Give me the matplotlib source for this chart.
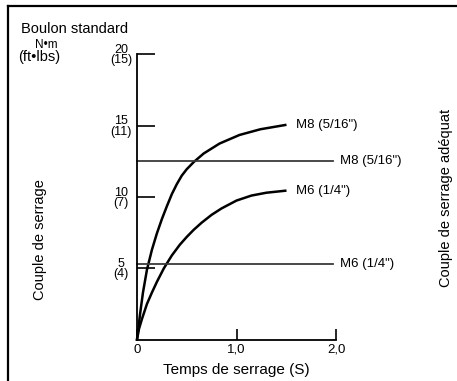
import matplotlib
matplotlib.use("Agg")
import matplotlib.pyplot as plt
from matplotlib.lines import Line2D

plt.rcParams['font.family'] = ['Liberation Sans', 'DejaVu Sans']

# values
m8_time = [0, 0.03, 0.06, 0.10, 0.15, 0.20, 0.25, 0.30, 0.35, 0.40, 0.45, 0.50, 0.57,
           0.67, 0.83, 1.03, 1.24, 1.49]
m8_torque = [0, 1.75, 3.3, 4.9, 6.3, 7.45, 8.45, 9.35, 10.2, 10.9, 11.5, 11.95, 12.45,
             13.05, 13.75, 14.35, 14.75, 15.05]
m6_time = [0, 0.02, 0.05, 0.10, 0.15, 0.20, 0.27, 0.35, 0.43, 0.50, 0.57, 0.65, 0.75,
           0.85, 1.0, 1.15, 1.3, 1.49]
m6_torque = [0, 0.75, 1.45, 2.5, 3.3, 4.05, 5.0, 5.9, 6.65, 7.2, 7.7, 8.2, 8.75,
             9.2, 9.75, 10.1, 10.3, 10.44]
m8_adequate = 12.55
m6_adequate = 5.28
line_end = 1.97

ytick_vals = [5, 10, 15, 20]
ytick_nm = ["5", "10", "15", "20"]
ytick_ftlbs = ["(4)", "(7)", "(11)", "(15)"]
xtick_vals = [0, 1.0, 2.0]
xtick_labels = ["0", "1,0", "2,0"]

W, H = 457, 381
px = 72 / 100  # points per pixel at dpi 100
fig = plt.figure(figsize=(W / 100, H / 100), dpi=100)
ax = fig.add_axes([137 / W, 1 - 339.6 / H, (336 - 137) / W, (339.6 - 54.4) / H])
ax.set_xlim(0, 2.0)
ax.set_ylim(0, 20)

for s in ["top", "right"]:
    ax.spines[s].set_visible(False)
for s in ["left", "bottom"]:
    ax.spines[s].set_linewidth(1.3)

ax.plot(m8_time, m8_torque, color="black", lw=1.8, solid_joinstyle="round", clip_on=False)
ax.plot(m6_time, m6_torque, color="black", lw=1.8, solid_joinstyle="round", clip_on=False)
ax.plot([0, line_end], [m8_adequate] * 2, color="#3a3a3a", lw=1.3, clip_on=False)
ax.plot([0, line_end], [m6_adequate] * 2, color="#3a3a3a", lw=1.3, clip_on=False)

ax.text(1.6, m8_torque[-1], 'M8 (5/16")', fontsize=9.5, va="center", ha="left")
ax.text(1.6, m6_torque[-1], 'M6 (1/4")', fontsize=9.5, va="center", ha="left")
ax.text(2.04, m8_adequate, 'M8 (5/16")', fontsize=9.5, va="center", ha="left", clip_on=False)
ax.text(2.04, m6_adequate, 'M6 (1/4")', fontsize=9.5, va="center", ha="left", clip_on=False)

# y ticks: N·m value above, ft·lbs value below
ax.set_yticks(ytick_vals)
ax.set_yticklabels([])
ax.tick_params(axis="y", direction="in", length=13, width=1.2)
for val, nm, ft in zip(ytick_vals, ytick_nm, ytick_ftlbs):
    ax.annotate(nm, xy=(0, val), xytext=(-16 * px, 4.5 * px), textcoords="offset points",
                fontsize=9, ha="center", va="center")
    ax.annotate(ft, xy=(0, val), xytext=(-16 * px, -6 * px), textcoords="offset points",
                fontsize=9, ha="center", va="center")

ax.set_xticks(xtick_vals)
ax.set_xticklabels(xtick_labels, fontsize=9.5)
ax.tick_params(axis="x", direction="in", length=8, width=1.2, pad=3)

ax.set_xlabel("Temps de serrage (S)", fontsize=11, labelpad=5)

fig.text(21 / W, 1 - 33 / H, "Boulon standard", fontsize=10.5, ha="left", va="baseline")
fig.text(46 / W, 1 - 48.5 / H, "N•m", fontsize=8.5, ha="center", va="baseline")
fig.text(39.5 / W, 1 - 61 / H, "(ft•lbs)", fontsize=10.5, ha="center", va="baseline")
fig.text(40 / W, 1 - 240 / H, "Couple de serrage", fontsize=10.5, rotation=90, ha="center", va="center")
fig.text(446 / W, 1 - 198 / H, "Couple de serrage adéquat", fontsize=10.5, rotation=90,
         ha="center", va="center")

# frame (only left and top edges visible in the crop)
fig.add_artist(Line2D([8 / W, 8 / W], [0, 1 - 6 / H], color="black", lw=1.6))
fig.add_artist(Line2D([8 / W, 1], [1 - 6 / H, 1 - 6 / H], color="black", lw=1.6))

fig.savefig("out.png", dpi=100)
